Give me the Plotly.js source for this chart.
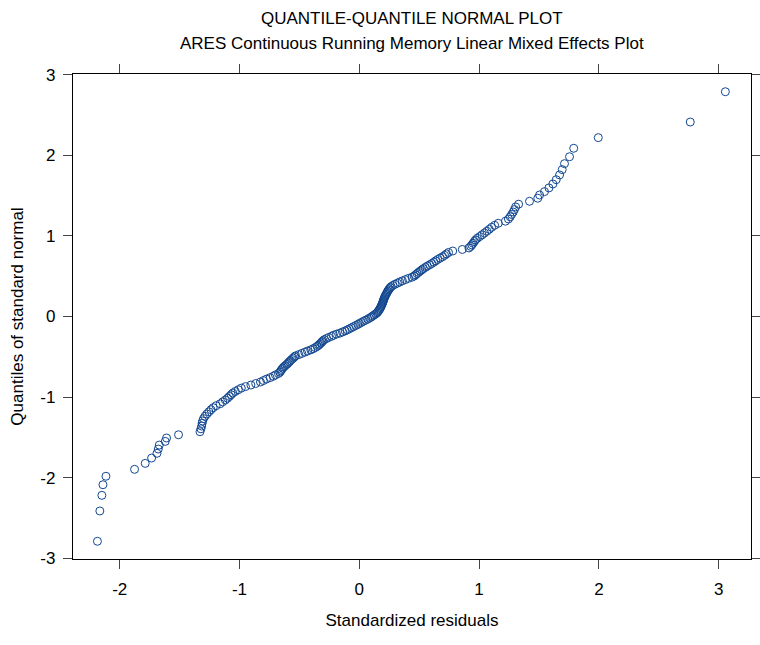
<!DOCTYPE html>
<html>
<head>
<meta charset="utf-8">
<script src="https://cdn.plot.ly/plotly-3.0.1.min.js"></script>
<style>html,body{margin:0;padding:0;background:#fff;}#chart{width:760px;height:645px;}</style>
</head>
<body>
<div id="chart"></div>
<script>
// Standardized residuals (sorted)
const residuals = [
 -2.186, -2.166, -2.149, -2.140, -2.115, -1.876, -1.787, -1.734, -1.689, -1.678,
 -1.670, -1.620, -1.609, -1.509, -1.330, -1.322, -1.316, -1.312, -1.308, -1.300,
 -1.288, -1.272, -1.255, -1.238, -1.220, -1.195, -1.162, -1.140, -1.118, -1.100,
 -1.085, -1.070, -1.056, -1.035, -1.010, -0.985, -0.950, -0.905, -0.865, -0.825,
 -0.800, -0.775, -0.745, -0.718, -0.700, -0.675, -0.662, -0.655, -0.648, -0.640,
 -0.630, -0.618, -0.605, -0.595, -0.585, -0.575, -0.565, -0.552, -0.542, -0.532,
 -0.505, -0.480, -0.455, -0.432, -0.405, -0.385, -0.368, -0.352, -0.340, -0.330,
 -0.320, -0.312, -0.303, -0.292, -0.275, -0.255, -0.232, -0.215, -0.190, -0.162,
 -0.140, -0.118, -0.100, -0.082, -0.065, -0.048, -0.030, -0.012, 0.002, 0.018,
 0.035, 0.052, 0.070, 0.085, 0.100,
 0.112, 0.125, 0.138, 0.148, 0.156, 0.162, 0.168, 0.173, 0.178, 0.182,
 0.186, 0.190, 0.194, 0.197, 0.200, 0.203, 0.206, 0.210, 0.214, 0.218,
 0.223, 0.228, 0.233, 0.238, 0.244, 0.250, 0.258, 0.266, 0.280, 0.298,
 0.318, 0.338, 0.360, 0.385, 0.410, 0.440, 0.458, 0.470, 0.482, 0.495,
 0.508, 0.522, 0.535, 0.552, 0.568, 0.588, 0.605, 0.622, 0.638, 0.655,
 0.675, 0.695, 0.712, 0.728, 0.745, 0.780, 0.860, 0.915, 0.930, 0.940,
 0.950, 0.960, 0.970, 0.985, 1.005, 1.025, 1.045, 1.065, 1.085, 1.105,
 1.130, 1.160, 1.220, 1.245, 1.260, 1.272, 1.285, 1.295, 1.305, 1.330,
 1.421, 1.490, 1.505, 1.546, 1.583, 1.616, 1.644, 1.672, 1.694, 1.713,
 1.755, 1.790, 1.995, 2.763, 3.056
];
// Quantiles of standard normal
const normalQuantiles = [
 -2.790, -2.414, -2.220, -2.088, -1.983, -1.897, -1.823, -1.757, -1.698, -1.645,
 -1.596, -1.550, -1.508, -1.468, -1.430, -1.394, -1.360, -1.327, -1.297, -1.267,
 -1.238, -1.210, -1.183, -1.157, -1.132, -1.107, -1.083, -1.059, -1.036, -1.014,
 -0.992, -0.971, -0.950, -0.930, -0.909, -0.889, -0.870, -0.851, -0.832, -0.813,
 -0.795, -0.777, -0.759, -0.742, -0.725, -0.708, -0.691, -0.674, -0.658, -0.642,
 -0.626, -0.610, -0.594, -0.579, -0.563, -0.548, -0.533, -0.517, -0.502, -0.488,
 -0.473, -0.458, -0.443, -0.429, -0.414, -0.400, -0.385, -0.371, -0.357, -0.343,
 -0.329, -0.315, -0.301, -0.287, -0.274, -0.260, -0.246, -0.233, -0.219, -0.206,
 -0.192, -0.179, -0.166, -0.152, -0.139, -0.126, -0.112, -0.099, -0.086, -0.073,
 -0.059, -0.046, -0.033, -0.020, -0.007,
 0.007, 0.020, 0.033, 0.046, 0.059, 0.073, 0.086, 0.099, 0.112, 0.126,
 0.139, 0.152, 0.166, 0.179, 0.192, 0.206, 0.219, 0.233, 0.246, 0.260,
 0.274, 0.287, 0.301, 0.315, 0.329, 0.343, 0.357, 0.371, 0.385, 0.400,
 0.414, 0.429, 0.443, 0.458, 0.473, 0.488, 0.502, 0.517, 0.533, 0.548,
 0.563, 0.579, 0.594, 0.610, 0.626, 0.642, 0.658, 0.674, 0.691, 0.708,
 0.725, 0.742, 0.759, 0.777, 0.795, 0.813, 0.832, 0.851, 0.870, 0.889,
 0.909, 0.930, 0.950, 0.971, 0.992, 1.014, 1.036, 1.059, 1.083, 1.107,
 1.132, 1.157, 1.183, 1.210, 1.238, 1.267, 1.297, 1.327, 1.360, 1.394,
 1.430, 1.468, 1.508, 1.550, 1.596, 1.645, 1.698, 1.757, 1.823, 1.897,
 1.983, 2.088, 2.220, 2.414, 2.790
];
const xTickVals = [-2, -1, 0, 1, 2, 3];
const xTickText = ["-2", "-1", "0", "1", "2", "3"];
const yTickVals = [-3, -2, -1, 0, 1, 2, 3];
const yTickText = ["-3", "-2", "-1", "0", "1", "2", "3"];
const titleMain = "QUANTILE-QUANTILE NORMAL PLOT";
const titleSub = "ARES Continuous Running Memory Linear Mixed Effects Plot";
const xTitle = "Standardized residuals";
const yTitle = "Quantiles of standard normal";

const FONT = "Liberation Sans, Arial, Helvetica, sans-serif";

const trace = {
  type: "scatter",
  mode: "markers",
  x: residuals,
  y: normalQuantiles,
  marker: {
    symbol: "circle-open",
    size: 8,
    color: "#124790",
    line: {width: 1, color: "#124790"}
  },
  hoverinfo: "x+y",
  showlegend: false
};

const axisCommon = {
  showgrid: false,
  zeroline: false,
  showline: true,
  mirror: "ticks",
  linecolor: "#000",
  linewidth: 1.2,
  ticks: "outside",
  ticklen: 9,
  tickwidth: 1,
  tickcolor: "#444",
  tickfont: {family: FONT, size: 17, color: "#000"}
};

const layout = {
  width: 760,
  height: 645,
  margin: {l: 73, r: 9, t: 74, b: 86},
  paper_bgcolor: "#fff",
  plot_bgcolor: "#fff",
  font: {family: FONT, color: "#000"},
  xaxis: Object.assign({}, axisCommon, {
    range: [-2.39, 3.27],
    tickmode: "array",
    tickvals: xTickVals,
    ticktext: xTickText,
    ticklabelstandoff: 5,
    title: {text: xTitle, font: {family: FONT, size: 17, color: "#000"}, standoff: 16}
  }),
  yaxis: Object.assign({}, axisCommon, {
    range: [-3.01, 3.01],
    tickmode: "array",
    tickvals: yTickVals,
    ticktext: yTickText,
    ticklabelstandoff: 4,
    title: {text: yTitle, font: {family: FONT, size: 17, color: "#000"}, standoff: 12}
  }),
  annotations: [
    {text: titleMain, xref: "paper", yref: "paper", x: 0.5, y: 1.1135,
     xanchor: "center", yanchor: "middle", showarrow: false,
     font: {family: FONT, size: 17, color: "#000"}},
    {text: titleSub, xref: "paper", yref: "paper", x: 0.5, y: 1.0619,
     xanchor: "center", yanchor: "middle", showarrow: false,
     font: {family: FONT, size: 17, color: "#000"}}
  ]
};

Plotly.newPlot("chart", [trace], layout, {displayModeBar: false, staticPlot: true});
</script>
</body>
</html>
